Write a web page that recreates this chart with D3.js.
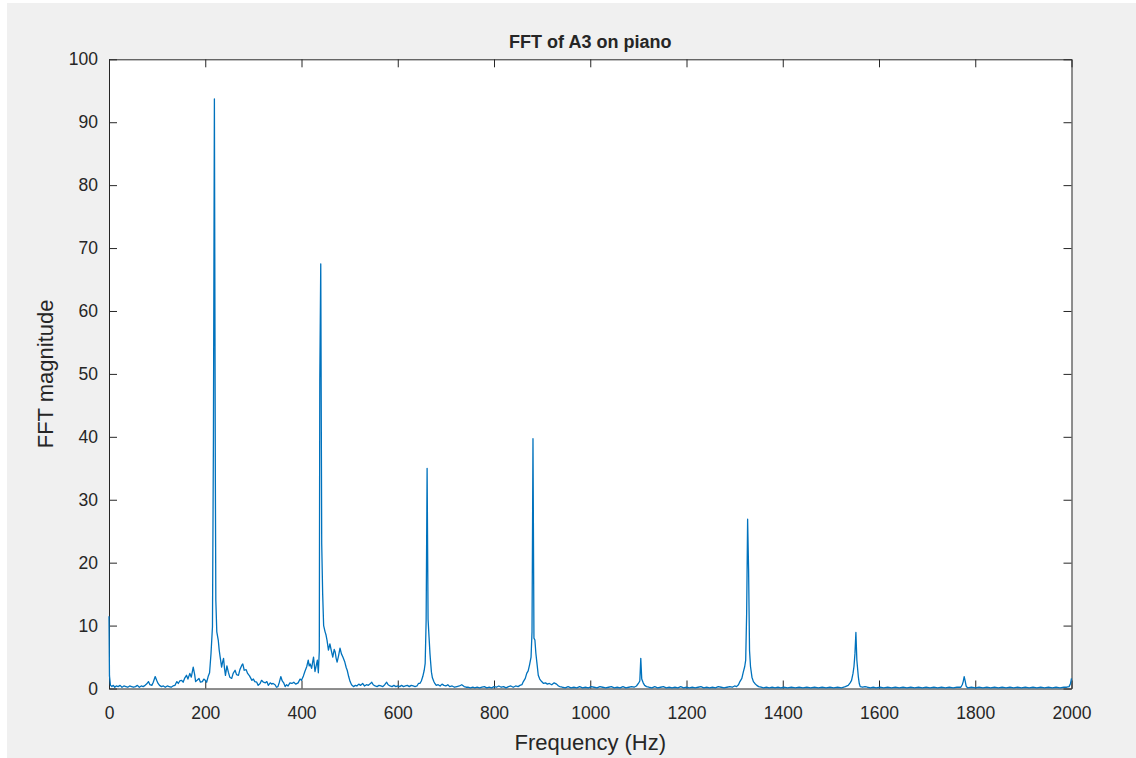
<!DOCTYPE html>
<html>
<head>
<meta charset="utf-8">
<script src="https://cdn.jsdelivr.net/npm/d3@7"></script>
<style>
  html, body { margin: 0; padding: 0; background: #ffffff; }
  svg { display: block; }
  text { font-family: "Liberation Sans", Arial, Helvetica, sans-serif; fill: #262626; }
</style>
</head>
<body>
<svg id="chart" width="1136" height="758"></svg>
<script>
// ---- data ----
const chartTitle = "FFT of A3 on piano";
const xLabel = "Frequency (Hz)";
const yLabel = "FFT magnitude";
const xTicks = [0, 200, 400, 600, 800, 1000, 1200, 1400, 1600, 1800, 2000];
const yTicks = [0, 10, 20, 30, 40, 50, 60, 70, 80, 90, 100];
const xDomain = [0, 2000];
const yDomain = [0, 100];

// [frequency Hz, FFT magnitude]
const spectrum = [
  [0,11.5],[1,2.0],[3,0.5],[6,0.3],[9,0.5],[12,0.2],[15,0.4],[19,0.3],[23,0.5],[27,0.2],
  [31,0.4],[35,0.3],[39,0.2],[43,0.4],[47,0.3],[51,0.2],[55,0.3],[59,0.5],[63,0.2],[67,0.4],
  [71,0.3],[75,0.5],[78,0.7],[82,1.1],[85,0.6],[89,0.5],[92,1.0],[96,1.9],[99,1.3],[102,0.8],
  [105,0.5],[109,0.3],[113,0.4],[117,0.2],[121,0.4],[125,0.3],[129,0.2],[133,0.4],[137,0.5],[141,1.1],
  [144,0.8],[147,1.2],[151,1.3],[154,1.0],[157,1.6],[161,2.1],[164,1.5],[168,2.4],[171,1.8],[175,3.4],
  [178,2.2],[180,1.1],[183,1.3],[187,1.6],[190,1.0],[194,1.1],[197,1.5],[200,1.3],[203,1.0],[206,1.9],
  [209,2.5],[212,5.6],[215,9.8],[217,40],[219,93.7],[221,33],[222,14],[224,9],[227,7.7],[229,6.1],
  [231,5.0],[234,3.4],[236,4.2],[238,4.8],[240,3.2],[242,2.1],[245,3.6],[248,2.6],[251,1.8],[255,1.6],
  [258,2.4],[262,2.9],[265,2.2],[269,2.1],[272,3.0],[276,3.7],[278,3.9],[281,2.9],[285,3.0],[288,2.4],
  [292,2.0],[297,1.3],[300,1.5],[303,1.1],[307,1.0],[310,0.5],[314,0.8],[317,1.3],[321,1.0],[325,0.9],
  [328,1.1],[331,0.5],[335,0.9],[338,0.7],[341,0.8],[345,0.6],[348,0.2],[351,0.3],[354,1.0],[357,1.9],
  [360,1.2],[363,0.9],[366,0.3],[369,0.6],[372,0.4],[376,0.9],[380,0.8],[384,1.0],[388,0.7],[393,0.9],
  [397,1.5],[400,1.3],[404,2.0],[407,2.7],[411,3.5],[414,4.5],[416,3.6],[418,3.9],[421,3.2],[423,4.1],
  [425,5.0],[428,2.7],[431,3.8],[433,4.5],[435,2.5],[437,6],[438,49],[440,67.5],[442,23],[444,15],
  [446,10],[449,9],[451,8.5],[453,7.7],[456,6.1],[459,7.1],[462,6.0],[465,5.0],[468,6.2],[470,5.8],
  [472,4.8],[474,4.2],[477,5.2],[480,6.4],[483,5.5],[486,5.0],[490,4.2],[493,3.3],[495,2.9],[498,1.9],
  [501,1.1],[504,0.6],[508,0.3],[512,0.5],[515,0.4],[519,0.7],[523,0.5],[527,0.8],[531,0.4],[535,0.6],
  [539,0.5],[542,0.7],[546,1.0],[549,0.6],[553,0.4],[557,0.3],[561,0.5],[565,0.4],[569,0.3],[573,0.6],
  [577,1.0],[580,0.6],[584,0.4],[588,0.3],[592,0.5],[596,0.3],[600,0.4],[604,0.3],[608,0.5],[612,0.3],
  [616,0.4],[620,0.5],[624,0.3],[628,0.5],[632,0.4],[636,0.3],[640,0.4],[643,0.8],[646,0.8],[649,1.2],
  [652,1.9],[655,2.9],[657,4.0],[659,10.9],[661,35],[663,11],[665,8.2],[667,5.5],[668,4.5],[670,2.6],
  [672,1.7],[675,1.1],[677,0.8],[680,0.5],[684,0.6],[688,0.4],[692,0.7],[696,0.5],[700,0.4],[704,0.6],
  [708,0.3],[713,0.4],[718,0.2],[723,0.3],[728,0.4],[733,0.6],[738,0.3],[742,0.2],[746,0.2],[751,0.1],
  [756,0.2],[760,0.1],[765,0.2],[770,0.1],[775,0.2],[780,0.3],[785,0.1],[790,0.2],[795,0.1],[800,0.3],
  [805,0.2],[810,0.4],[815,0.2],[820,0.3],[825,0.1],[830,0.3],[835,0.4],[840,0.2],[845,0.4],[850,0.3],
  [854,0.5],[858,0.6],[861,1.1],[865,1.6],[868,2.4],[871,2.8],[874,3.8],[877,5.0],[879,9],[881,39.7],
  [883,8],[885,7.7],[887,5.6],[889,4.2],[892,2.1],[895,1.5],[899,1.1],[903,0.8],[907,0.9],[911,0.7],
  [915,0.8],[920,0.6],[925,0.9],[930,0.7],[934,0.4],[937,0.3],[942,0.2],[948,0.1],[954,0.3],[960,0.1],
  [966,0.2],[972,0.1],[978,0.3],[984,0.1],[990,0.2],[996,0.1],[1002,0.3],[1008,0.2],[1014,0.1],[1020,0.3],
  [1026,0.2],[1032,0.1],[1038,0.2],[1044,0.3],[1050,0.1],[1056,0.2],[1062,0.1],[1068,0.3],[1074,0.1],[1080,0.2],
  [1086,0.3],[1091,0.2],[1096,0.4],[1100,0.8],[1103,1.2],[1105,4.8],[1107,1.5],[1110,0.9],[1113,0.5],[1117,0.3],
  [1122,0.2],[1128,0.1],[1134,0.3],[1140,0.1],[1146,0.2],[1152,0.3],[1158,0.1],[1164,0.2],[1170,0.1],[1176,0.2],
  [1182,0.1],[1188,0.3],[1194,0.1],[1200,0.2],[1206,0.1],[1212,0.2],[1218,0.1],[1224,0.2],[1230,0.3],[1236,0.1],
  [1242,0.2],[1248,0.1],[1254,0.2],[1260,0.1],[1266,0.3],[1272,0.2],[1278,0.1],[1284,0.2],[1290,0.3],[1295,0.2],
  [1300,0.4],[1304,0.3],[1308,0.6],[1311,1.1],[1315,1.6],[1318,2.6],[1321,3.5],[1323,4.5],[1325,12],[1327,26.9],
  [1329,19],[1331,6],[1333,3.5],[1336,1.8],[1339,1.1],[1342,0.8],[1346,0.5],[1350,0.3],[1355,0.2],[1360,0.1],
  [1366,0.2],[1372,0.1],[1378,0.2],[1384,0.1],[1390,0.2],[1396,0.1],[1402,0.2],[1410,0.1],[1418,0.2],[1426,0.1],
  [1434,0.2],[1442,0.1],[1450,0.2],[1458,0.1],[1466,0.2],[1474,0.1],[1482,0.2],[1490,0.1],[1498,0.2],[1506,0.1],
  [1514,0.2],[1522,0.1],[1530,0.3],[1536,0.5],[1540,0.9],[1543,1.3],[1546,2.4],[1548,3.5],[1550,5.5],[1552,8.9],
  [1554,4.5],[1557,1.9],[1559,0.8],[1561,0.3],[1566,0.2],[1571,0.3],[1576,0.2],[1582,0.1],[1588,0.2],[1594,0.1],
  [1602,0.2],[1610,0.1],[1618,0.2],[1626,0.1],[1634,0.2],[1642,0.1],[1650,0.2],[1658,0.1],[1666,0.2],[1674,0.1],
  [1682,0.2],[1690,0.1],[1698,0.2],[1706,0.1],[1714,0.2],[1722,0.1],[1730,0.2],[1738,0.1],[1746,0.2],[1754,0.1],
  [1762,0.2],[1770,0.2],[1773,0.6],[1775,1.1],[1777,1.9],[1779,1.2],[1781,0.4],[1784,0.1],[1792,0.2],[1800,0.1],
  [1808,0.2],[1816,0.1],[1824,0.2],[1832,0.1],[1840,0.2],[1848,0.1],[1856,0.2],[1864,0.1],[1872,0.2],[1880,0.1],
  [1888,0.2],[1896,0.1],[1904,0.2],[1912,0.1],[1920,0.2],[1928,0.1],[1936,0.2],[1944,0.1],[1952,0.2],[1960,0.1],
  [1968,0.2],[1976,0.1],[1984,0.2],[1990,0.2],[1995,0.3],[1998,0.8],[2000,1.6]
];

// ---- drawing ----
const W = 1136, H = 758;
const plot = { left: 109, right: 1071.5, top: 59.3, bottom: 688.5 };
const svg = d3.select("#chart");

// figure background (MATLAB grey) with thin white edge
svg.append("rect").attr("x", 0).attr("y", 0).attr("width", W).attr("height", H).attr("fill", "#ffffff");
svg.append("rect").attr("x", 7).attr("y", 3).attr("width", W - 7).attr("height", H - 3).attr("fill", "#f0f0f0");

const x = d3.scaleLinear().domain(xDomain).range([plot.left, plot.right]);
const y = d3.scaleLinear().domain(yDomain).range([plot.bottom, plot.top]);

// axes background
svg.append("rect")
  .attr("x", plot.left).attr("y", plot.top)
  .attr("width", plot.right - plot.left).attr("height", plot.bottom - plot.top)
  .attr("fill", "#ffffff");

const axisColor = "#262626";
const tickLen = 8;

function styleAxis(g) {
  g.selectAll(".domain").attr("stroke", axisColor).attr("stroke-width", 1);
  g.selectAll(".tick line").attr("stroke", axisColor).attr("stroke-width", 1);
  g.selectAll(".tick text").attr("fill", axisColor).style("font-size", "17.5px")
    .style("font-family", "'Liberation Sans', Arial, Helvetica, sans-serif");
}

// bottom axis
svg.append("g")
  .attr("transform", `translate(0,${plot.bottom})`)
  .call(d3.axisBottom(x).tickValues(xTicks).tickSizeInner(-tickLen).tickSizeOuter(0).tickPadding(18).tickFormat(d3.format("d")))
  .call(styleAxis);

// top axis (ticks only)
svg.append("g")
  .attr("transform", `translate(0,${plot.top})`)
  .call(d3.axisTop(x).tickValues(xTicks).tickSizeInner(-tickLen).tickSizeOuter(0).tickFormat(""))
  .call(styleAxis);

// left axis
svg.append("g")
  .attr("transform", `translate(${plot.left},0)`)
  .call(d3.axisLeft(y).tickValues(yTicks).tickSizeInner(-tickLen).tickSizeOuter(0).tickPadding(11).tickFormat(d3.format("d")))
  .call(styleAxis);

// right axis (ticks only)
svg.append("g")
  .attr("transform", `translate(${plot.right},0)`)
  .call(d3.axisRight(y).tickValues(yTicks).tickSizeInner(-tickLen).tickSizeOuter(0).tickFormat(""))
  .call(styleAxis);

// clip
svg.append("clipPath").attr("id", "plotclip")
  .append("rect")
  .attr("x", plot.left - 1).attr("y", plot.top - 1)
  .attr("width", plot.right - plot.left + 2).attr("height", plot.bottom - plot.top + 2);

// spectrum line
const line = d3.line().x(d => x(d[0])).y(d => y(d[1]));
svg.append("path")
  .datum(spectrum)
  .attr("clip-path", "url(#plotclip)")
  .attr("fill", "none")
  .attr("stroke", "#0072BD")
  .attr("stroke-width", 1.3)
  .attr("stroke-linejoin", "round")
  .attr("d", line);

// title
svg.append("text")
  .attr("x", (plot.left + plot.right) / 2)
  .attr("y", 48)
  .attr("text-anchor", "middle")
  .style("font-size", "18px")
  .style("font-weight", "bold")
  .attr("fill", "#000000")
  .text(chartTitle);

// x label
svg.append("text")
  .attr("x", (plot.left + plot.right) / 2)
  .attr("y", 750)
  .attr("text-anchor", "middle")
  .style("font-size", "22px")
  .attr("fill", axisColor)
  .text(xLabel);

// y label
svg.append("text")
  .attr("transform", `translate(53,${(plot.top + plot.bottom) / 2}) rotate(-90)`)
  .attr("text-anchor", "middle")
  .style("font-size", "22px")
  .attr("fill", axisColor)
  .text(yLabel);
</script>
</body>
</html>
